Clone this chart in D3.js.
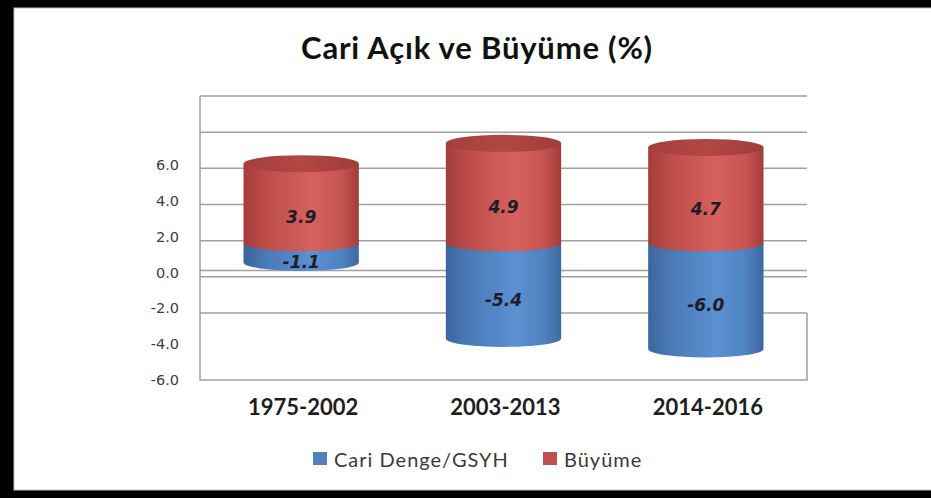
<!DOCTYPE html>
<html>
<head>
<meta charset="utf-8">
<script src="https://cdn.jsdelivr.net/npm/d3@7"></script>
<style>
  body { margin: 0; background: #fff; }
  svg { display: block; }
</style>
</head>
<body>
<svg id="chart"></svg>
<script>
// data
const categories = ["1975-2002", "2003-2013", "2014-2016"];
const cariDenge = [-1.1, -5.4, -6.0];
const buyume = [3.9, 4.9, 4.7];
const seriesNames = ["Cari Denge/GSYH", "Büyüme"];
const axisTicks = [6, 4, 2, 0, -2, -4, -6];
const gridTicks = [10, 8, 6, 4, 2, 0, -2];

const width = 931, height = 498;
const colors = { cari: "#4f81bd", buyume: "#c0504d" };

const svg = d3.select("#chart").attr("width", width).attr("height", height);

// black frame of the screenshot (open on the right)
svg.append("rect").attr("width", width).attr("height", height).attr("fill", "#000");
svg.append("rect").attr("x", 14).attr("y", 8).attr("width", width + 10).attr("height", 482)
    .attr("fill", "#fff").attr("stroke", "#bdbdbd").attr("stroke-width", 1);

// gradients for the cylinder faces
const defs = svg.append("defs");
function grad(id, stops) {
    const g = defs.append("linearGradient").attr("id", id)
        .attr("x1", "0%").attr("x2", "100%").attr("y1", "0%").attr("y2", "0%");
    stops.forEach(s => g.append("stop").attr("offset", s[0]).attr("stop-color", s[1]));
}
grad("gCari", [["0%", "#3b659c"], ["20%", "#4a7bb8"], ["60%", "#5b90d1"], ["85%", "#4f82c1"], ["100%", "#3d69a1"]]);
grad("gBuyume", [["0%", "#a33d3a"], ["20%", "#be4d4a"], ["60%", "#d6625e"], ["85%", "#c65451"], ["100%", "#a23d3a"]]);
grad("gTop", [["0%", "#a53f3c"], ["50%", "#b24744"], ["100%", "#a13c39"]]);

// scales (3D look: back wall grid, front axis labels and bars use different scales)
const x = d3.scaleBand().domain(categories).range([200, 807]);
const yBar = d3.scaleLinear().domain([-6, 0, 6]).range([349, 243, 121]);
const yAxis = d3.scaleLinear().domain([-6, 6]).range([380, 165]);
const yGrid = d3.scaleLinear().domain([-2, 10]).range([313, 96]);

const gridColor = "#a0a0a0";

// back wall gridlines
svg.append("g").selectAll("line").data(gridTicks).enter().append("line")
    .attr("x1", 200).attr("x2", 807)
    .attr("y1", d => yGrid(d)).attr("y2", d => yGrid(d))
    .attr("stroke", gridColor).attr("stroke-width", 1.5);

// front edge of the floor at zero
svg.append("line")
    .attr("x1", 200).attr("x2", 807)
    .attr("y1", yAxis(0) - 2).attr("y2", yAxis(0) - 2)
    .attr("stroke", gridColor).attr("stroke-width", 1.5);

// plot frame
svg.append("path")
    .attr("d", `M200,${yGrid(10)}V${yAxis(-6)}H807V${yGrid(-2)}`)
    .attr("fill", "none").attr("stroke", gridColor).attr("stroke-width", 1.5);

// y axis labels
const yAx = svg.append("g").attr("transform", "translate(179,0)")
    .call(d3.axisLeft(yAxis).tickValues(axisTicks).tickSize(0).tickPadding(0)
        .tickFormat(d => d.toFixed(1)));
yAx.select(".domain").remove();
yAx.selectAll("text").attr("font-family", "'DejaVu Sans', Verdana, sans-serif")
    .attr("font-size", 14.5).attr("fill", "#3c3c48");

// stacked cylinders
const rows = categories.map((c, i) => ({ cat: c, cari: cariDenge[i], buyume: buyume[i] }));
const stack = d3.stack().keys(["cari", "buyume"]).offset(d3.stackOffsetDiverging)(rows);

const rx = x.bandwidth() * 0.285, ry = 8.5;
const fills = { cari: "url(#gCari)", buyume: "url(#gBuyume)" };
const labelDrop = { cari: 9, buyume: 14 };

function face(d) {
    const cx = x(d.data.cat) + x.bandwidth() / 2;
    const yT = yBar(d[1]), yB = yBar(d[0]);
    return `M${cx - rx},${yT}L${cx - rx},${yB}A${rx},${ry} 0 0 0 ${cx + rx},${yB}L${cx + rx},${yT}Z`;
}

stack.forEach(s => {
    const g = svg.append("g");
    g.selectAll("path").data(s).enter().append("path")
        .attr("d", face).attr("fill", fills[s.key]);
});

// top caps
const topSeries = stack[stack.length - 1];
svg.append("g").selectAll("ellipse").data(topSeries).enter().append("ellipse")
    .attr("cx", d => x(d.data.cat) + x.bandwidth() / 2)
    .attr("cy", d => yBar(d[1]))
    .attr("rx", rx).attr("ry", ry)
    .attr("fill", "url(#gTop)");

// value labels
stack.forEach(s => {
    svg.append("g").selectAll("text").data(s).enter().append("text")
        .attr("x", d => x(d.data.cat) + x.bandwidth() / 2)
        .attr("y", d => (yBar(d[0]) + yBar(d[1])) / 2 + labelDrop[s.key])
        .attr("text-anchor", "middle").attr("dominant-baseline", "central")
        .attr("font-family", "'DejaVu Sans', Verdana, sans-serif")
        .attr("font-size", 17).attr("font-style", "italic").attr("font-weight", "bold")
        .attr("fill", "#1c1c2a")
        .text(d => d.data[s.key].toFixed(1));
});

// category labels
svg.append("g").selectAll("text").data(categories).enter().append("text")
    .attr("x", d => x(d) + x.bandwidth() / 2 + 2)
    .attr("y", 415)
    .attr("text-anchor", "middle")
    .attr("font-family", "Lato, Calibri, sans-serif").attr("font-weight", "bold")
    .attr("font-size", 22).attr("fill", "#1e1e1e")
    .text(d => d);

// title
svg.append("text")
    .attr("x", 477).attr("y", 59)
    .attr("text-anchor", "middle")
    .attr("font-family", "Lato, Calibri, sans-serif").attr("font-weight", "bold")
    .attr("font-size", 31).attr("letter-spacing", 0.8).attr("fill", "#111")
    .text("Cari Açık ve Büyüme (%)");

// legend
const legend = svg.append("g").attr("transform", "translate(313,452)");
const legItems = [
    { name: seriesNames[0], color: colors.cari, x: 0 },
    { name: seriesNames[1], color: colors.buyume, x: 230 }
];
const li = legend.selectAll("g").data(legItems).enter().append("g")
    .attr("transform", d => `translate(${d.x},0)`);
li.append("rect").attr("width", 14).attr("height", 13).attr("fill", d => d.color);
li.append("text").attr("x", 21).attr("y", 7)
    .attr("dominant-baseline", "central")
    .attr("font-family", "Lato, Calibri, sans-serif")
    .attr("font-size", 20).attr("letter-spacing", 1).attr("fill", "#3a3a3a")
    .text(d => d.name);
</script>
</body>
</html>
